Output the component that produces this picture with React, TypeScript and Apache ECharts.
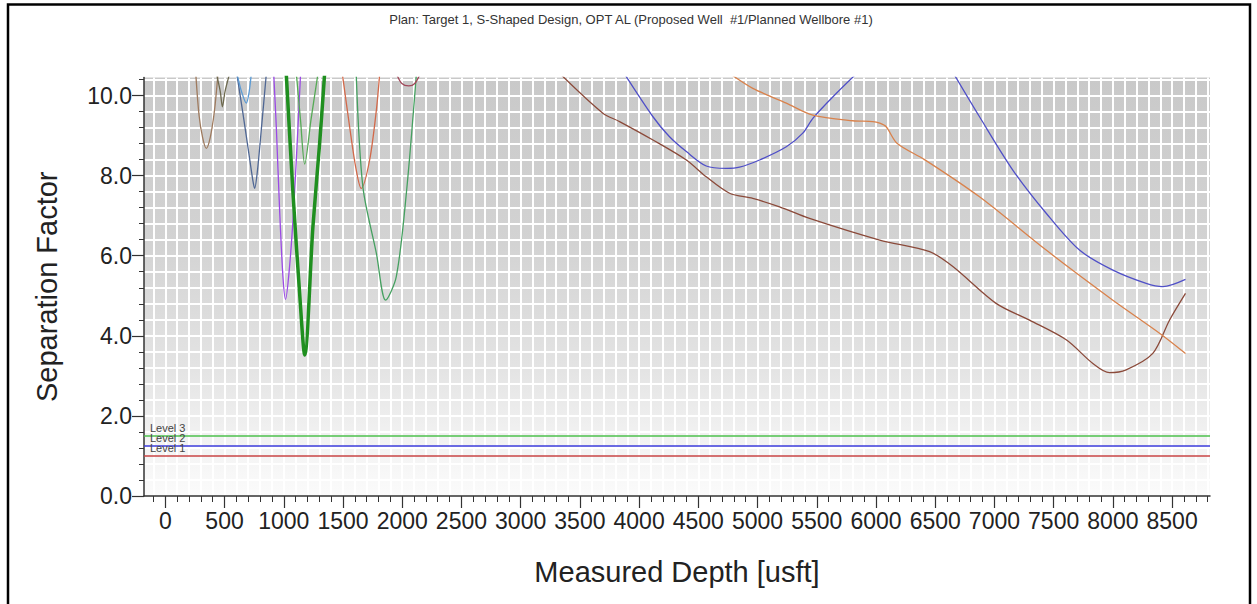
import React, { useEffect, useRef } from "react";
import * as echarts from "echarts";

// ---- Axis ranges and tick labels ----
const xMin = -180;
const xMax = 8820;
const yMin = 0;
const yMax = 10.45;
const xTickLabels = [0, 500, 1000, 1500, 2000, 2500, 3000, 3500, 4000, 4500, 5000, 5500, 6000, 6500, 7000, 7500, 8000, 8500];
const yTickLabels = [0, 2, 4, 6, 8, 10];
const xMinorStep = 100;
const yMinorStep = 0.4;

// ---- Title & axis names ----
const titleText = "Plan: Target 1, S-Shaped Design, OPT AL (Proposed Well  #1/Planned Wellbore #1)";
const xAxisName = "Measured Depth [usft]";
const yAxisName = "Separation Factor";

// ---- Levels ----
const levelNames = ["Level 1", "Level 2", "Level 3"];
const levelValues = [1.0, 1.25, 1.5];
const levelColors = ["#c84444", "#3c3cdc", "#4cc04c"];

// ---- Separation factor curves [MD, SF] ----
const curveBrownU = [[257, 10.55], [285, 9.5], [315, 8.95], [346, 8.68], [379, 8.95], [414, 9.6], [445, 10.55]];
const curveOliveV = [[431, 10.55], [464, 10.1], [482, 9.72], [504, 10.1], [543, 10.55]];
const curveSlate = [[603, 10.55], [653, 9.6], [703, 8.6], [738, 7.9], [754, 7.68], [777, 8.1], [812, 9.2], [853, 10.55]];
const curveLightBlue = [[605, 10.55], [643, 10.1], [684, 9.81], [708, 10.1], [726, 10.55]];
const curvePurple = [[915, 10.55], [937, 9.22], [965, 7.14], [993, 5.48], [1015, 4.91], [1049, 5.73], [1083, 7.14], [1120, 9.22], [1142, 10.55]];
const curveThinGreen = [[1106, 10.55], [1141, 9.4], [1177, 8.29], [1230, 9.4], [1289, 10.55]];
const curveThickGreen = [[1021, 10.55], [1078, 7.56], [1134, 5.06], [1177, 3.52], [1246, 6.72], [1303, 8.81], [1345, 10.55]];
const curveOrangeV = [[1494, 10.55], [1556, 9.22], [1608, 8.2], [1654, 7.68], [1725, 8.39], [1782, 9.64], [1810, 10.55]];
const curveGreenV = [[1612, 10.51], [1668, 7.72], [1782, 6.06], [1860, 4.89], [1950, 5.48], [2035, 7.56], [2119, 10.51]];
const curveMaroonU = [[1950, 10.55], [1997, 10.3], [2056, 10.24], [2106, 10.3], [2153, 10.55]];
const curveBrownLong = [[3334, 10.54], [3694, 9.56], [3835, 9.35], [4117, 8.89], [4399, 8.39], [4567, 7.97], [4764, 7.56], [4960, 7.43], [5186, 7.22], [5439, 6.93], [6031, 6.39], [6453, 6.1], [6649, 5.73], [7014, 4.81], [7296, 4.39], [7606, 3.9], [7831, 3.31], [7971, 3.08], [8112, 3.15], [8337, 3.56], [8478, 4.39], [8613, 5.06]];
const curveBlueMid = [[3877, 10.54], [4117, 9.47], [4257, 8.97], [4399, 8.6], [4567, 8.24], [4736, 8.18], [4848, 8.21], [5017, 8.39], [5243, 8.72], [5382, 9.06], [5467, 9.43], [5664, 10.05], [5833, 10.54]];
const curveOrangeLong = [[4770, 10.54], [4960, 10.18], [5243, 9.81], [5467, 9.51], [5804, 9.37], [5973, 9.35], [6031, 9.31], [6086, 9.22], [6180, 8.8], [6410, 8.4], [6874, 7.47], [7437, 6.14], [8000, 4.89], [8397, 4.06], [8613, 3.56]];
const curveBlueRight = [[6663, 10.51], [6874, 9.47], [7155, 8.14], [7437, 7.06], [7718, 6.14], [8000, 5.64], [8281, 5.31], [8422, 5.23], [8613, 5.41]];

const curves = [
  { name: "A", data: curveBrownU, color: "#9e7a5e", width: 1.3 },
  { name: "B", data: curveOliveV, color: "#6e6a50", width: 1.3 },
  { name: "C", data: curveSlate, color: "#4f6794", width: 1.3 },
  { name: "D", data: curveLightBlue, color: "#5b9bd5", width: 1.3 },
  { name: "E", data: curvePurple, color: "#9b4ae6", width: 1.3 },
  { name: "F", data: curveThinGreen, color: "#55aa55", width: 1.3 },
  { name: "G", data: curveThickGreen, color: "#1f8f1f", width: 3.5 },
  { name: "H", data: curveOrangeV, color: "#d2694a", width: 1.3 },
  { name: "I", data: curveGreenV, color: "#45a060", width: 1.3 },
  { name: "J", data: curveMaroonU, color: "#a0485a", width: 1.3 },
  { name: "K", data: curveBrownLong, color: "#8b4a3a", width: 1.3 },
  { name: "L", data: curveBlueMid, color: "#4f4fc8", width: 1.3 },
  { name: "M", data: curveOrangeLong, color: "#d9824c", width: 1.3 },
  { name: "N", data: curveBlueRight, color: "#5050c8", width: 1.3 },
];

const FONT = "Liberation Sans, Arial, sans-serif";

function stepValues(from: number, to: number, step: number): number[] {
  const out: number[] = [];
  const n = Math.round((to - from) / step);
  for (let i = 0; i <= n; i++) out.push(Math.round((from + i * step) * 1000) / 1000);
  return out;
}

export default function App() {
  const ref = useRef<HTMLDivElement>(null);
  useEffect(() => {
    if (!ref.current) return;
    const chart = echarts.init(ref.current, null, { renderer: "svg" });
    const xMinor = stepValues(-100, 8800, xMinorStep);
    const yMinor = stepValues(0, 10.4, yMinorStep);
    const axisColor = "#333";
    const series: any[] = curves.map((c) => ({
      name: c.name,
      type: "line",
      data: c.data,
      showSymbol: false,
      smooth: 0.3,
      lineStyle: { color: c.color, width: c.width },
      xAxisIndex: 0,
      yAxisIndex: 0,
      silent: true,
    }));
    series.push({
      name: "levels",
      type: "line",
      data: [],
      xAxisIndex: 0,
      yAxisIndex: 0,
      silent: true,
      markLine: {
        silent: true,
        symbol: ["none", "none"],
        data: levelValues.map((v, i) => ({
          yAxis: v,
          lineStyle: { color: levelColors[i], width: 1.6, type: "solid" },
          label: {
            show: true,
            formatter: levelNames[i],
            position: "insideStartTop",
            fontSize: 11,
            fontFamily: FONT,
            color: "#444",
            distance: [6, 2],
          },
        })),
      },
    });
    chart.setOption({
      animation: false,
      backgroundColor: "#ffffff",
      grid: {
        left: 144,
        right: 47,
        top: 77.5,
        bottom: 108,
        show: true,
        borderWidth: 0,
        backgroundColor: new echarts.graphic.LinearGradient(0, 0, 0, 1, [
          { offset: 0, color: "#c9c9c9" },
          { offset: 0.4, color: "#d3d3d3" },
          { offset: 0.7, color: "#e4e4e4" },
          { offset: 0.85, color: "#f1f1f1" },
          { offset: 1, color: "#fbfbfb" },
        ]),
      },
      graphic: [
        {
          type: "rect",
          shape: { x: 8, y: 4.5, width: 1242, height: 700 },
          style: { fill: "none", stroke: "#000", lineWidth: 2.5 },
          silent: true,
        },
        {
          type: "text",
          x: 631,
          y: 19,
          style: {
            text: titleText,
            font: `13px ${FONT}`,
            fill: "#333",
            textAlign: "center",
            textVerticalAlign: "middle",
          },
          silent: true,
        },
      ],
      xAxis: [
        {
          type: "value",
          min: xMin,
          max: xMax,
          position: "bottom",
          name: xAxisName,
          nameLocation: "middle",
          nameGap: 61,
          nameTextStyle: { fontSize: 29, fontFamily: FONT, color: "#222" },
          axisLine: { show: true, onZero: false, lineStyle: { color: axisColor, width: 1.5 } },
          axisTick: { show: true, customValues: xMinor, length: 6, lineStyle: { color: axisColor, width: 1 } },
          axisLabel: {
            show: true,
            customValues: xTickLabels,
            fontSize: 23,
            fontFamily: FONT,
            color: "#222",
            margin: 13,
            formatter: (v: number) => String(v),
          },
          splitLine: { show: true, lineStyle: { color: "#ffffff", width: 2 } },
        },
        {
          type: "value",
          min: xMin,
          max: xMax,
          position: "bottom",
          axisLine: { show: false, onZero: false },
          axisTick: { show: true, customValues: xTickLabels, length: 12, lineStyle: { color: axisColor, width: 1.2 } },
          axisLabel: { show: false },
          splitLine: { show: false },
        },
      ],
      yAxis: [
        {
          type: "value",
          min: yMin,
          max: yMax,
          position: "left",
          name: yAxisName,
          nameLocation: "middle",
          nameGap: 83,
          nameTextStyle: { fontSize: 29, fontFamily: FONT, color: "#222" },
          axisLine: { show: true, onZero: false, lineStyle: { color: axisColor, width: 1.5 } },
          axisTick: { show: true, customValues: yMinor, length: 5, lineStyle: { color: axisColor, width: 1 } },
          axisLabel: {
            show: true,
            customValues: yTickLabels,
            fontSize: 23,
            fontFamily: FONT,
            color: "#222",
            margin: 12,
            formatter: (v: number) => v.toFixed(1),
          },
          splitLine: { show: true, lineStyle: { color: "#ffffff", width: 2 } },
        },
        {
          type: "value",
          min: yMin,
          max: yMax,
          position: "left",
          axisLine: { show: false, onZero: false },
          axisTick: { show: true, customValues: yTickLabels, length: 12, lineStyle: { color: axisColor, width: 1.2 } },
          axisLabel: { show: false },
          splitLine: { show: false },
        },
      ],
      series,
    });
    return () => chart.dispose();
  }, []);
  return (
    <div
      ref={ref}
      style={{ position: "absolute", left: 0, top: 0, width: 1257, height: 604, background: "#fff" }}
    />
  );
}
